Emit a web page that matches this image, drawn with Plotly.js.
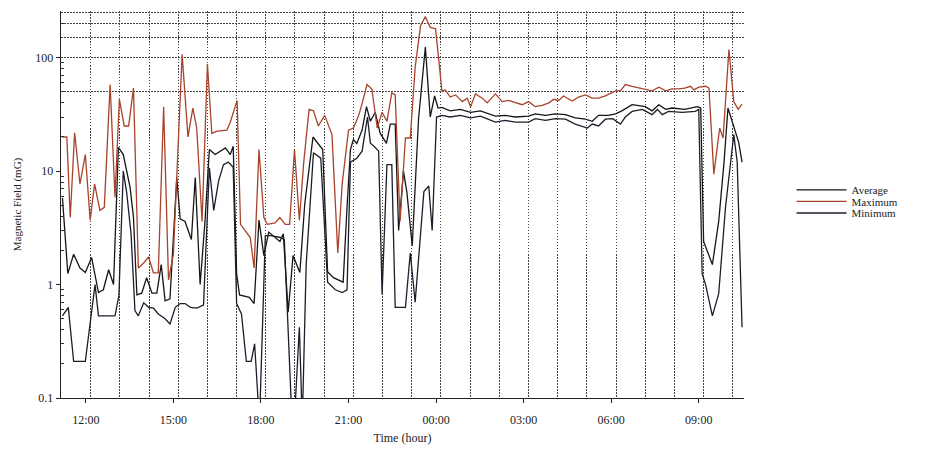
<!DOCTYPE html>
<html>
<head>
<meta charset="utf-8">
<script src="https://cdn.plot.ly/plotly-3.0.1.min.js"></script>
<style>html,body{margin:0;padding:0;background:#fff;}#chart{width:928px;height:451px;}</style>
</head>
<body>
<div id="chart"></div>
<script>
// ---- data (time "HH:MM", value in mG) ----
const maxTimes = ["11:12","11:21","11:28","11:37","11:48","11:59","12:09","12:18","12:29","12:38","12:50","13:00","13:09","13:19","13:28","13:38","13:48","13:59","14:09","14:19","14:29","14:40","14:50","15:00","15:18","15:30","15:40","15:48","15:59","16:10","16:19","16:30","16:50","16:57","17:11","17:18","17:38","17:46","17:56","18:06","18:13","18:29","18:39","18:50","18:59","19:09","19:19","19:28","19:39","19:48","19:58","20:11","20:26","20:38","20:47","21:00","21:10","21:21","21:29","21:38","21:48","21:59","22:09","22:19","22:29","22:36","22:46","22:57","23:07","23:17","23:28","23:38","23:48","23:59","00:12","00:19","00:29","00:40","00:54","01:04","01:11","01:21","01:35","01:45","02:02","02:16","02:29","02:43","02:57","03:10","03:24","03:38","03:52","04:02","04:12","04:22","04:40","04:53","05:07","05:21","05:34","05:48","06:09","06:19","06:29","06:43","06:57","07:10","07:24","07:38","07:52","08:05","08:19","08:31","08:43","08:50","09:00","09:14","09:21","09:31","09:43","09:50","10:02","10:12","10:21","10:29"];
const maxValues = [20,20,3.9,21.8,7.7,14,3.7,7.7,4.5,4.8,58,5.9,43,25,25,54,1.4,1.55,1.75,1.27,1.27,37,1.1,1.85,107,20,36,24,3.6,88,21.5,22.5,23,27,42,3.4,2.6,1.4,15.5,3.9,3.4,3.5,3.9,3.4,3.4,15.5,3.7,12,35,34,25,31,21,1.9,7.7,23,24,31,41,58,53,24,33,27.5,49,47,3.6,19.6,19.6,82,190,230,185,180,51,52,45,47,41,44,37,48,44,40,48,41,42,40,38.5,41,37,38,40,43,42,46,41.5,45,47,44,44,46,51,51,58,56,54,53,51,55,51,53,53,54,56,52,55,56,54,9.4,24,19.6,118,41,35,39];

const avgTimes = ["11:12","11:23","11:35","11:48","11:59","12:12","12:26","12:36","12:47","12:57","13:07","13:17","13:31","13:38","13:45","13:55","14:05","14:16","14:26","14:35","14:43","14:53","15:07","15:14","15:24","15:37","15:45","15:55","16:05","16:14","16:26","16:36","16:47","16:57","17:03","17:10","17:16","17:36","17:46","17:56","18:06","18:16","18:39","18:46","18:56","19:06","19:20","19:30","19:47","20:07","20:17","20:29","20:40","20:49","20:57","21:04","21:10","21:17","21:28","21:37","21:45","21:55","22:05","22:18","22:26","22:36","22:43","22:53","23:00","23:11","23:24","23:38","23:48","23:57","00:04","00:12","00:29","00:50","01:11","01:31","02:02","02:22","02:43","03:10","03:24","03:45","04:05","04:26","04:46","05:07","05:21","05:34","05:54","06:09","06:22","06:43","07:10","07:24","07:38","07:52","08:05","08:31","08:57","09:04","09:10","09:28","09:41","09:52","10:00","10:12","10:22","10:29"];
const avgValues = [5.8,1.25,1.85,1.4,1.28,1.73,0.85,0.9,1.35,1.0,16.2,14,7.2,3.9,0.81,0.84,1.15,0.84,0.84,1.5,0.72,0.75,8.8,3.8,3.6,2.5,8.8,1.0,3.6,15.5,14,15,16,14,16.6,1.25,0.81,0.77,0.68,3.7,1.8,2.9,2.4,2.8,0.57,1.8,1.28,5.1,20,15.5,1.3,1.15,1.1,1.05,4.8,15.5,19,17.5,23,37,27.5,33,21.6,17.6,26,26,3.0,10,6.5,2.2,29,124,30,46,36,36.5,34,35,33,34,30.5,31,30,30.5,32,31,32,31.5,29.5,28.7,27.5,31,31,32,34,38.5,37,34,38.5,35,36,35,37,36,2.4,1.5,3.6,12,36,24,18,12];

const minTimes = ["11:12","11:24","11:35","11:59","12:19","12:26","13:00","13:08","13:17","13:24","13:33","13:41","13:48","13:59","14:09","14:19","14:29","14:43","14:53","15:04","15:14","15:24","15:35","15:48","16:02","16:14","16:23","16:33","16:43","16:53","17:03","17:10","17:20","17:30","17:40","17:47","17:57","18:09","18:20","18:40","18:48","18:57","19:04","19:10","19:19","19:25","19:33","19:48","20:03","20:17","20:33","20:47","20:57","21:04","21:17","21:28","21:39","21:45","21:53","22:02","22:09","22:19","22:29","22:36","22:57","23:07","23:17","23:35","23:45","23:52","00:01","00:12","00:29","00:50","01:11","01:31","02:02","02:22","02:43","03:10","03:24","03:45","04:05","04:26","04:46","05:11","05:21","05:34","05:48","06:03","06:19","06:29","06:43","07:04","07:24","07:35","07:45","07:58","08:26","08:53","09:00","09:07","09:14","09:28","09:41","09:55","10:05","10:12","10:19","10:29"];
const minValues = [0.53,0.63,0.21,0.21,1.0,0.53,0.53,0.8,10,6.5,2.8,0.59,0.53,0.69,0.63,0.62,0.55,0.5,0.45,0.63,0.68,0.68,0.63,0.62,0.66,10.7,4.5,8.2,11.4,12,10.8,0.68,0.55,0.21,0.21,0.3,0.06,2.7,2.7,2.6,2.5,0.3,0.06,0.08,0.42,0.06,1.5,14.5,13,1.05,0.9,0.85,0.9,12,13,15,30,17.6,16.5,15,0.82,11.4,11.4,0.63,0.63,1.9,0.7,6.6,7.4,3.0,30,31,30,31,29.5,30.5,27,28,27,27,29,28,29,28.7,26,24,26,25,28.7,29,26,30,33.6,35,31.5,35,31.5,33.6,33,33.6,35,1.25,1.0,0.53,0.83,4.8,12,21,12,0.42];

const seriesNames = ["Average","Maximum","Minimum"];
const tickTimes = ["12:00","15:00","18:00","21:00","00:00","03:00","06:00","09:00"];
const yTickVals = [0.1,1,10,100];
const yTickText = ["0.1","1","10","100"];
const yMinorVals = [0.2,0.3,0.4,0.5,0.6,0.7,0.8,0.9,2,3,4,5,6,7,8,9,20,30,40,50,60,70,80,90,200];
const upperGridVals = [50,100,150,200,250];

// "HH:MM" -> full date string (times before 11:00 fall on the next day)
function toDate(t){
  const h = parseInt(t.slice(0,2),10);
  return (h >= 11 ? "2000-01-01 " : "2000-01-02 ") + t;
}

const FONT = "Liberation Serif, Times New Roman, serif";
const lineCol = {Average:"#161616", Maximum:"#a8432b", Minimum:"#1d1d2b"};
const Y_RANGE = [-1, Math.log10(258)];

const traces = [
  {x: avgTimes.map(toDate), y: avgValues, name: seriesNames[0], legend: "legend", yaxis: "y"},
  {x: maxTimes.map(toDate), y: maxValues, name: seriesNames[1], legend: "legend2", yaxis: "y2"},
  {x: minTimes.map(toDate), y: minValues, name: seriesNames[2], legend: "legend3", yaxis: "y"}
].map(t => Object.assign(t, {
  type: "scatter", mode: "lines",
  line: {color: lineCol[t.name], width: 1.3},
  hoverinfo: "x+y+name"
}));

const legendBase = {
  xanchor: "left", yanchor: "middle", x: 1.0696,
  bgcolor: "rgba(0,0,0,0)", borderwidth: 0,
  font: {family: FONT, size: 11, color: "#222"},
  itemwidth: 50
};

const layout = {
  width: 928, height: 451,
  margin: {l: 61, r: 184, t: 11, b: 53},
  paper_bgcolor: "#fff", plot_bgcolor: "#fff",
  font: {family: FONT, size: 12, color: "#222"},
  showlegend: true,
  legend: Object.assign({}, legendBase, {y: 0.538}),
  legend2: Object.assign({}, legendBase, {y: 0.508}),
  legend3: Object.assign({}, legendBase, {y: 0.478}),
  xaxis: {
    type: "date",
    range: ["2000-01-01 11:09", "2000-01-02 10:33"],
    tickvals: tickTimes.map(toDate),
    ticktext: tickTimes,
    ticks: "outside", ticklen: 4, tickcolor: "#222", tickwidth: 1,
    showline: true, linecolor: "#222", linewidth: 1.3,
    showgrid: false, zeroline: false,
    tickfont: {family: FONT, size: 12, color: "#222"},
    ticklabelstandoff: 6,
    minor: {tick0: "2000-01-01 12:10", dtick: 3600000, showgrid: true,
            gridcolor: "#444", gridwidth: 1, griddash: "1.5px,1.5px", ticks: ""},
    title: {text: "Time (hour)", font: {family: FONT, size: 12, color: "#222"}, standoff: 8}
  },
  yaxis: {
    type: "log",
    range: Y_RANGE,
    tickvals: yTickVals, ticktext: yTickText,
    ticks: "outside", ticklen: 4, tickcolor: "#222",
    showline: true, linecolor: "#222", linewidth: 1.3,
    showgrid: false, zeroline: false,
    tickfont: {family: FONT, size: 12, color: "#222"},
    minor: {tickvals: yMinorVals, ticks: "inside", ticklen: 3, tickcolor: "#333", showgrid: false},
    title: {text: "Magnetic Field (mG)", font: {family: FONT, size: 11, color: "#222"}, standoff: 11}
  },
  yaxis2: {
    type: "log", overlaying: "y", anchor: "x", side: "left",
    range: Y_RANGE,
    tickvals: upperGridVals, showticklabels: false, ticks: "",
    showgrid: true, gridcolor: "#444", gridwidth: 1, griddash: "1.5px,1.5px",
    showline: false, zeroline: false
  }
};

Plotly.newPlot("chart", traces, layout, {displayModeBar: false, staticPlot: true});
</script>
</body>
</html>
